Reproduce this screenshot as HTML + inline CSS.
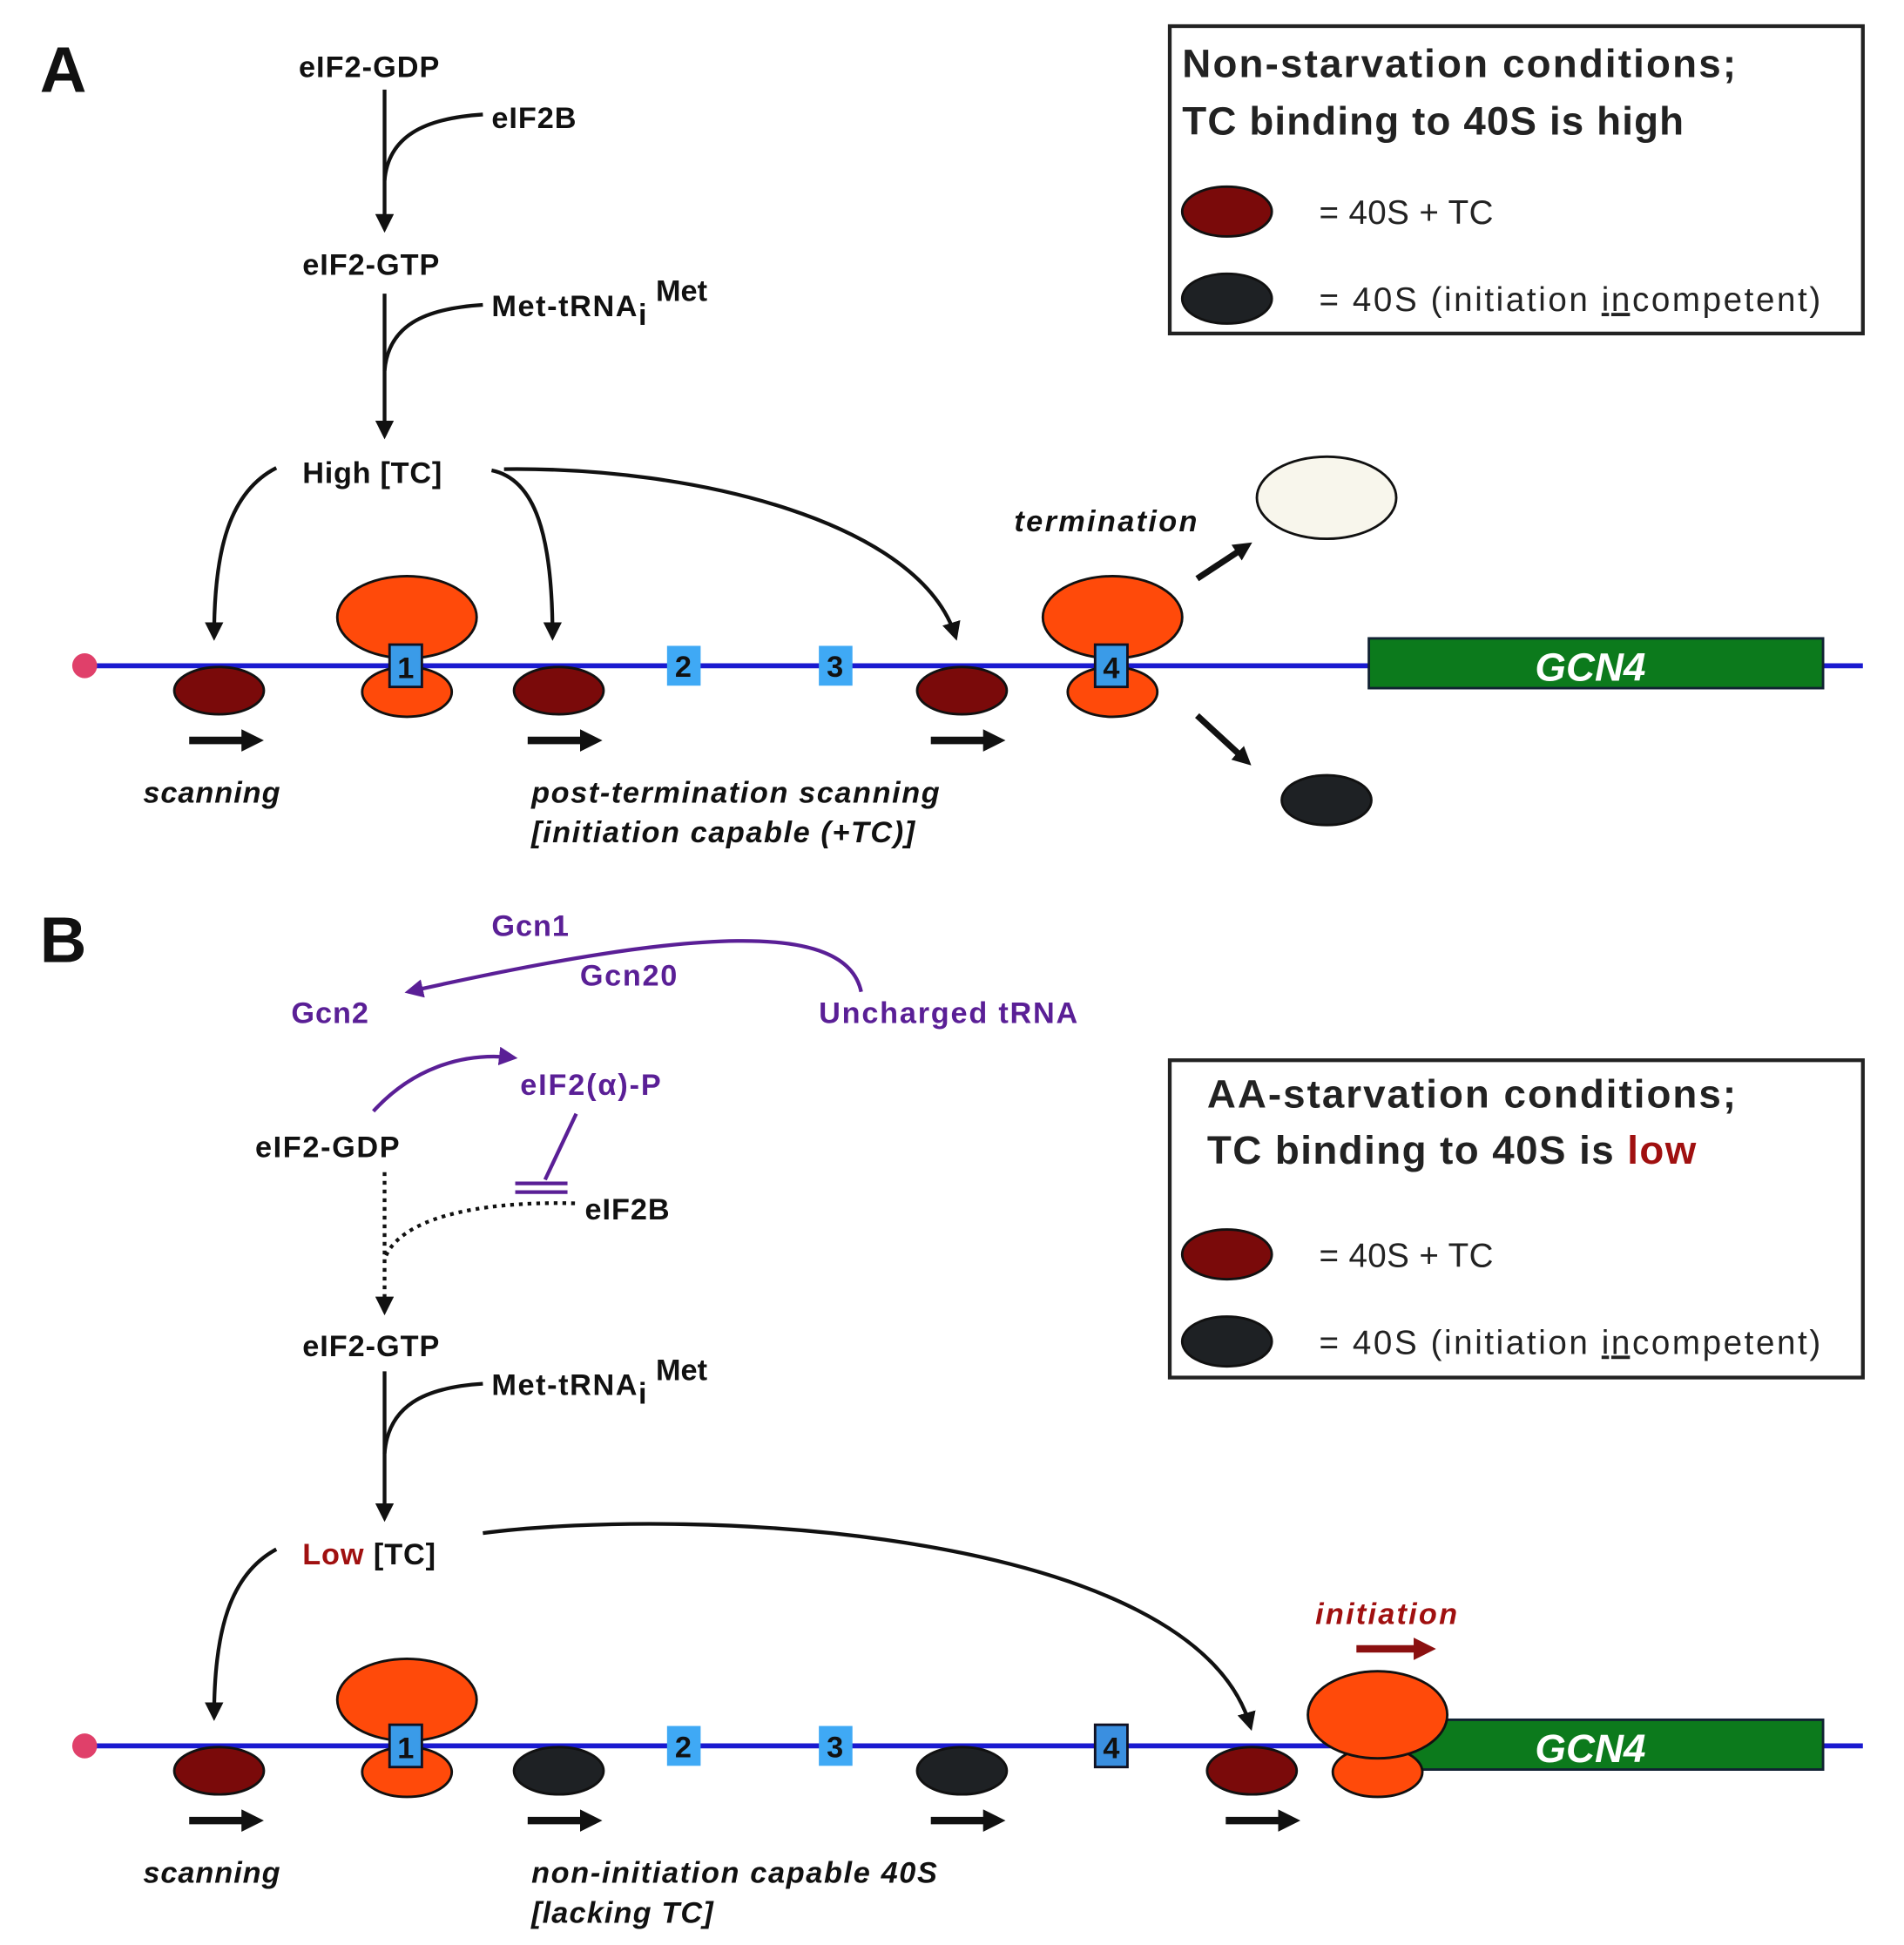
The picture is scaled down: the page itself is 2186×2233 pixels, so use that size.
<!DOCTYPE html>
<html><head><meta charset="utf-8"><style>
html,body{margin:0;padding:0;background:#fff;}
svg{display:block;}
text{font-family:"Liberation Sans Narrow","Liberation Sans",sans-serif;}
.b{font-weight:bold;font-size:24px;fill:#111;}
.p{font-weight:bold;font-size:24px;fill:#5a1f96;}
.i{font-weight:bold;font-style:italic;font-size:24px;fill:#111;}
.lg{font-size:32px;font-weight:bold;fill:#222;}
.ln{font-size:27px;fill:#222;}
</style></head><body>
<svg width="2186" height="2233" viewBox="0 0 1530 1563" xmlns="http://www.w3.org/2000/svg">
<defs>
<marker id="ah" viewBox="0 0 10 10" refX="8" refY="5" markerWidth="5" markerHeight="5" orient="auto-start-reverse"><path d="M0,0 L10,5 L0,10 z" fill="#111"/></marker>
<marker id="ahp" viewBox="0 0 10 10" refX="8" refY="5" markerWidth="5" markerHeight="5" orient="auto"><path d="M0,0 L10,5 L0,10 z" fill="#5a1f96"/></marker>
<marker id="fat" viewBox="0 0 10 10" refX="5" refY="5" markerWidth="3" markerHeight="3" orient="auto"><path d="M0,0 L10,5 L0,10 z" fill="#111"/></marker>
<marker id="fatr" viewBox="0 0 10 10" refX="5" refY="5" markerWidth="3" markerHeight="3" orient="auto"><path d="M0,0 L10,5 L0,10 z" fill="#8b1010"/></marker>
</defs>

<!-- ===== Panel A ===== -->
<text x="32" y="74" font-size="52" font-weight="bold" fill="#111" style="font-family:'Liberation Sans',sans-serif">A</text>
<text x="240" y="62" class="b" textLength="113">eIF2-GDP</text>
<line x1="309" y1="72" x2="309" y2="184" stroke="#111" stroke-width="3" marker-end="url(#ah)"/>
<path d="M388,92 C340,95 312,110 309,145" fill="none" stroke="#111" stroke-width="3"/>
<text x="395" y="103" class="b" textLength="68">eIF2B</text>
<text x="243" y="221" class="b" textLength="110">eIF2-GTP</text>
<line x1="309" y1="236" x2="309" y2="350" stroke="#111" stroke-width="3" marker-end="url(#ah)"/>
<path d="M388,245 C340,248 312,262 309,298" fill="none" stroke="#111" stroke-width="3"/>
<text x="395" y="254" class="b" textLength="117">Met-tRNA</text><text x="513" y="261" class="b" font-size="12">i</text><text x="527" y="242" class="b" font-size="14">Met</text>
<text x="243" y="388" class="b" textLength="112">High [TC]</text>
<path d="M222,376 C185,395 172,440 172,512" fill="none" stroke="#111" stroke-width="3" marker-end="url(#ah)"/>
<path d="M395,378 C430,385 444,430 444,512" fill="none" stroke="#111" stroke-width="3" marker-end="url(#ah)"/>
<path d="M405,377 C560,375 740,420 768,512" fill="none" stroke="#111" stroke-width="3" marker-end="url(#ah)"/>

<rect x="940" y="21" width="557" height="247" fill="#fff" stroke="#222" stroke-width="3"/>
<text x="950" y="62" class="lg" textLength="445">Non-starvation conditions;</text>
<text x="950" y="108" class="lg" textLength="403">TC binding to 40S is high</text>
<ellipse cx="986" cy="170" rx="36" ry="20" fill="#7a0a0a" stroke="#111" stroke-width="2"/>
<ellipse cx="986" cy="240" rx="36" ry="20" fill="#1e2124" stroke="#111" stroke-width="2"/>
<text x="1060" y="180" class="ln" textLength="140">= 40S + TC</text>
<text x="1060" y="250" class="ln" textLength="403">= 40S (initiation <tspan text-decoration="underline">in</tspan>competent)</text>

<line x1="70" y1="535" x2="1497" y2="535" stroke="#1a1ad0" stroke-width="4"/>
<circle cx="68" cy="535" r="10" fill="#e0406a"/>
<ellipse cx="176" cy="555" rx="36" ry="19" fill="#7a0a0a" stroke="#111" stroke-width="2"/>
<ellipse cx="449" cy="555" rx="36" ry="19" fill="#7a0a0a" stroke="#111" stroke-width="2"/>
<ellipse cx="773" cy="555" rx="36" ry="19" fill="#7a0a0a" stroke="#111" stroke-width="2"/>
<ellipse cx="327" cy="496" rx="56" ry="33" fill="#ff4a0a" stroke="#111" stroke-width="2"/>
<ellipse cx="327" cy="556" rx="36" ry="20" fill="#ff4a0a" stroke="#111" stroke-width="2"/>
<ellipse cx="894" cy="496" rx="56" ry="33" fill="#ff4a0a" stroke="#111" stroke-width="2"/>
<ellipse cx="894" cy="556" rx="36" ry="20" fill="#ff4a0a" stroke="#111" stroke-width="2"/>
<rect x="313" y="518" width="26" height="34" fill="#3a9be8" stroke="#112" stroke-width="2"/>
<text x="326" y="545" class="b" text-anchor="middle">1</text>
<rect x="880" y="518" width="26" height="34" fill="#3a9be8" stroke="#112" stroke-width="2"/>
<text x="893" y="545" class="b" text-anchor="middle">4</text>
<rect x="536" y="519" width="27" height="32" fill="#3fa9f5"/>
<text x="549" y="544" class="b" text-anchor="middle">2</text>
<rect x="658" y="519" width="27" height="32" fill="#3fa9f5"/>
<text x="671" y="544" class="b" text-anchor="middle">3</text>
<rect x="1100" y="513" width="365" height="40" fill="#0c7a1c" stroke="#123" stroke-width="2"/>
<text x="1278" y="547" text-anchor="middle" font-size="32" font-weight="bold" font-style="italic" fill="#fff">GCN4</text>
<line x1="152" y1="595" x2="203" y2="595" stroke="#111" stroke-width="6" marker-end="url(#fat)"/>
<line x1="424" y1="595" x2="475" y2="595" stroke="#111" stroke-width="6" marker-end="url(#fat)"/>
<line x1="748" y1="595" x2="799" y2="595" stroke="#111" stroke-width="6" marker-end="url(#fat)"/>
<text x="115" y="645" class="i" textLength="110">scanning</text>
<text x="427" y="645" class="i" textLength="328">post-termination scanning</text>
<text x="427" y="677" class="i" textLength="308">[initiation capable (+TC)]</text>
<text x="815" y="427" class="i" textLength="147">termination</text>
<line x1="962" y1="465" x2="1000" y2="440" stroke="#111" stroke-width="5" marker-end="url(#fat)"/>
<line x1="962" y1="575" x2="1000" y2="610" stroke="#111" stroke-width="5" marker-end="url(#fat)"/>
<ellipse cx="1066" cy="400" rx="56" ry="33" fill="#f8f6ec" stroke="#111" stroke-width="2"/>
<ellipse cx="1066" cy="643" rx="36" ry="20" fill="#1e2124" stroke="#111" stroke-width="2"/>

<!-- ===== Panel B ===== -->
<text x="32" y="773" font-size="52" font-weight="bold" fill="#111" style="font-family:'Liberation Sans',sans-serif">B</text>
<text x="395" y="752" class="p" textLength="62">Gcn1</text>
<text x="466" y="792" class="p" textLength="78">Gcn20</text>
<text x="234" y="822" class="p" textLength="62">Gcn2</text>
<text x="658" y="822" class="p" textLength="208">Uncharged tRNA</text>
<path d="M692,797 C680,740 560,745 328,797" fill="none" stroke="#5a1f96" stroke-width="3" marker-end="url(#ahp)"/>
<path d="M300,893 C330,860 370,845 413,850" fill="none" stroke="#5a1f96" stroke-width="3" marker-end="url(#ahp)"/>
<text x="418" y="880" class="p" textLength="113">eIF2(α)-P</text>
<line x1="463" y1="895" x2="438" y2="948" stroke="#5a1f96" stroke-width="3"/>
<line x1="414" y1="951" x2="456" y2="951" stroke="#5a1f96" stroke-width="3"/>
<line x1="414" y1="958" x2="456" y2="958" stroke="#5a1f96" stroke-width="3"/>
<text x="205" y="930" class="b" textLength="116">eIF2-GDP</text>
<line x1="309" y1="942" x2="309" y2="1054" stroke="#111" stroke-width="3" stroke-dasharray="3,4" marker-end="url(#ah)"/>
<path d="M462,967 C380,965 320,980 309,1012" fill="none" stroke="#111" stroke-width="3" stroke-dasharray="3,4"/>
<text x="470" y="980" class="b" textLength="68">eIF2B</text>
<text x="243" y="1090" class="b" textLength="110">eIF2-GTP</text>
<line x1="309" y1="1102" x2="309" y2="1220" stroke="#111" stroke-width="3" marker-end="url(#ah)"/>
<path d="M388,1112 C340,1115 312,1130 309,1168" fill="none" stroke="#111" stroke-width="3"/>
<text x="395" y="1121" class="b" textLength="117">Met-tRNA</text><text x="513" y="1128" class="b" font-size="12">i</text><text x="527" y="1109" class="b" font-size="14">Met</text>
<text x="243" y="1257" class="b" textLength="107"><tspan fill="#a01010">Low</tspan> [TC]</text>
<path d="M222,1245 C185,1265 172,1310 172,1380" fill="none" stroke="#111" stroke-width="3" marker-end="url(#ah)"/>
<path d="M388,1232 C560,1210 960,1230 1005,1388" fill="none" stroke="#111" stroke-width="3" marker-end="url(#ah)"/>

<rect x="940" y="852" width="557" height="255" fill="#fff" stroke="#222" stroke-width="3"/>
<text x="970" y="890" class="lg" textLength="425">AA-starvation conditions;</text>
<text x="970" y="935" class="lg" textLength="393">TC binding to 40S is <tspan fill="#a01010">low</tspan></text>
<ellipse cx="986" cy="1008" rx="36" ry="20" fill="#7a0a0a" stroke="#111" stroke-width="2"/>
<ellipse cx="986" cy="1078" rx="36" ry="20" fill="#1e2124" stroke="#111" stroke-width="2"/>
<text x="1060" y="1018" class="ln" textLength="140">= 40S + TC</text>
<text x="1060" y="1088" class="ln" textLength="403">= 40S (initiation <tspan text-decoration="underline">in</tspan>competent)</text>

<line x1="70" y1="1403" x2="1497" y2="1403" stroke="#1a1ad0" stroke-width="4"/>
<circle cx="68" cy="1403" r="10" fill="#e0406a"/>
<rect x="1130" y="1382" width="335" height="40" fill="#0c7a1c" stroke="#123" stroke-width="2"/>
<text x="1278" y="1416" text-anchor="middle" font-size="32" font-weight="bold" font-style="italic" fill="#fff">GCN4</text>
<ellipse cx="176" cy="1423" rx="36" ry="19" fill="#7a0a0a" stroke="#111" stroke-width="2"/>
<ellipse cx="449" cy="1423" rx="36" ry="19" fill="#1e2124" stroke="#111" stroke-width="2"/>
<ellipse cx="773" cy="1423" rx="36" ry="19" fill="#1e2124" stroke="#111" stroke-width="2"/>
<ellipse cx="1006" cy="1423" rx="36" ry="19" fill="#7a0a0a" stroke="#111" stroke-width="2"/>
<ellipse cx="327" cy="1366" rx="56" ry="33" fill="#ff4a0a" stroke="#111" stroke-width="2"/>
<ellipse cx="327" cy="1424" rx="36" ry="20" fill="#ff4a0a" stroke="#111" stroke-width="2"/>
<rect x="313" y="1386" width="26" height="34" fill="#3a9be8" stroke="#112" stroke-width="2"/>
<text x="326" y="1413" class="b" text-anchor="middle">1</text>
<rect x="536" y="1387" width="27" height="32" fill="#3fa9f5"/>
<text x="549" y="1412" class="b" text-anchor="middle">2</text>
<rect x="658" y="1387" width="27" height="32" fill="#3fa9f5"/>
<text x="671" y="1412" class="b" text-anchor="middle">3</text>
<rect x="880" y="1386" width="26" height="34" fill="#3a8fe0" stroke="#112" stroke-width="2"/>
<text x="893" y="1413" class="b" text-anchor="middle">4</text>
<ellipse cx="1107" cy="1424" rx="36" ry="20" fill="#ff4a0a" stroke="#111" stroke-width="2"/>
<ellipse cx="1107" cy="1378" rx="56" ry="35" fill="#ff4a0a" stroke="#111" stroke-width="2"/>
<text x="1057" y="1305" class="i" style="fill:#a01010" textLength="114">initiation</text>
<line x1="1090" y1="1325" x2="1145" y2="1325" stroke="#8b1010" stroke-width="6" marker-end="url(#fatr)"/>
<line x1="152" y1="1463" x2="203" y2="1463" stroke="#111" stroke-width="6" marker-end="url(#fat)"/>
<line x1="424" y1="1463" x2="475" y2="1463" stroke="#111" stroke-width="6" marker-end="url(#fat)"/>
<line x1="748" y1="1463" x2="799" y2="1463" stroke="#111" stroke-width="6" marker-end="url(#fat)"/>
<line x1="985" y1="1463" x2="1036" y2="1463" stroke="#111" stroke-width="6" marker-end="url(#fat)"/>
<text x="115" y="1513" class="i" textLength="110">scanning</text>
<text x="427" y="1513" class="i" textLength="326">non-initiation capable 40S</text>
<text x="427" y="1545" class="i" textLength="146">[lacking TC]</text>
</svg>
</body></html>
